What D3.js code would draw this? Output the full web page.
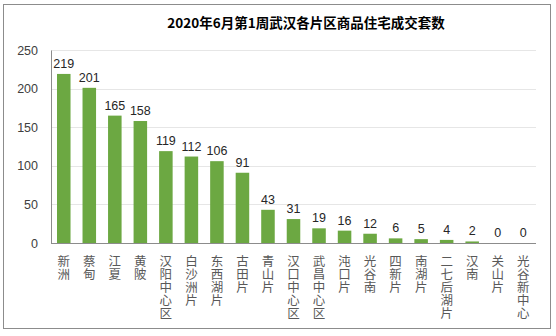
<!DOCTYPE html>
<html><head><meta charset="utf-8">
<script src="https://cdn.jsdelivr.net/npm/d3@7"></script>
<style>body{margin:0;background:#fff}svg{display:block}</style>
</head><body>
<svg id="c" width="556" height="336"></svg>
<script>
const title = "2020年6月第1周武汉各片区商品住宅成交套数";
const categories = ["新洲","蔡甸","江夏","黄陂","汉阳中心区","白沙洲片","东西湖片","古田片","青山片","汉口中心区","武昌中心区","沌口片","光谷南","四新片","南湖片","二七后湖片","汉南","关山片","光谷新中心"];
const values = [219,201,165,158,119,112,106,91,43,31,19,16,12,6,5,4,2,0,0];
const yTicks = [0,50,100,150,200,250];

const svg = d3.select("#c");
svg.append("rect").attr("x",3.5).attr("y",4.5).attr("width",547).attr("height",324)
  .attr("fill","#fff").attr("stroke","#8c8c8c").attr("stroke-width",1);

const x = d3.scaleBand().domain(categories).range([51,536]).paddingInner(0.47).paddingOuter(0.235);
const y = d3.scaleLinear().domain([0,250]).range([243,50]);

svg.append("text").attr("x",306).attr("y",28).attr("text-anchor","middle")
  .attr("font-family","Noto Sans CJK SC").attr("font-weight","bold").attr("font-size",13.5)
  .attr("fill","#000").text(title);

svg.append("g").selectAll("line").data(yTicks.slice(1)).join("line")
  .attr("x1",51).attr("x2",536).attr("y1",d=>Math.round(y(d))+0.5).attr("y2",d=>Math.round(y(d))+0.5)
  .attr("stroke","#e6e6e6");

const ya = svg.append("g").attr("transform","translate(51,0)")
  .call(d3.axisLeft(y).tickValues(yTicks).tickSize(0).tickPadding(13));
ya.select(".domain").attr("stroke","#8c8c8c");
ya.selectAll("text").attr("font-family","Liberation Sans, Arial").attr("font-size",12.5).attr("fill","#404040");

svg.append("g").selectAll("rect").data(values).join("rect")
  .attr("x",(d,i)=>x(categories[i])).attr("width",x.bandwidth())
  .attr("y",d=>y(d)).attr("height",d=>y(0)-y(d)).attr("fill","#6ca842");

svg.append("line").attr("x1",51).attr("x2",536).attr("y1",243.5).attr("y2",243.5).attr("stroke","#8c8c8c");

svg.append("g").selectAll("text").data(values).join("text")
  .attr("x",(d,i)=>x(categories[i])+x.bandwidth()/2).attr("y",d=>y(d)-6)
  .attr("text-anchor","middle").attr("font-family","Liberation Sans, Arial").attr("font-size",12.5)
  .attr("fill","#262626").text(d=>d);

svg.append("g").selectAll("text").data(categories).join("text")
  .attr("x",c=>x(c)+x.bandwidth()/2).attr("y",255)
  .attr("font-family","Noto Sans CJK SC").attr("font-size",12.5).attr("fill","#595959")
  .style("writing-mode","vertical-rl").style("text-orientation","upright")
  .attr("letter-spacing",0.6)
  .text(c=>c);
</script>
</body></html>
